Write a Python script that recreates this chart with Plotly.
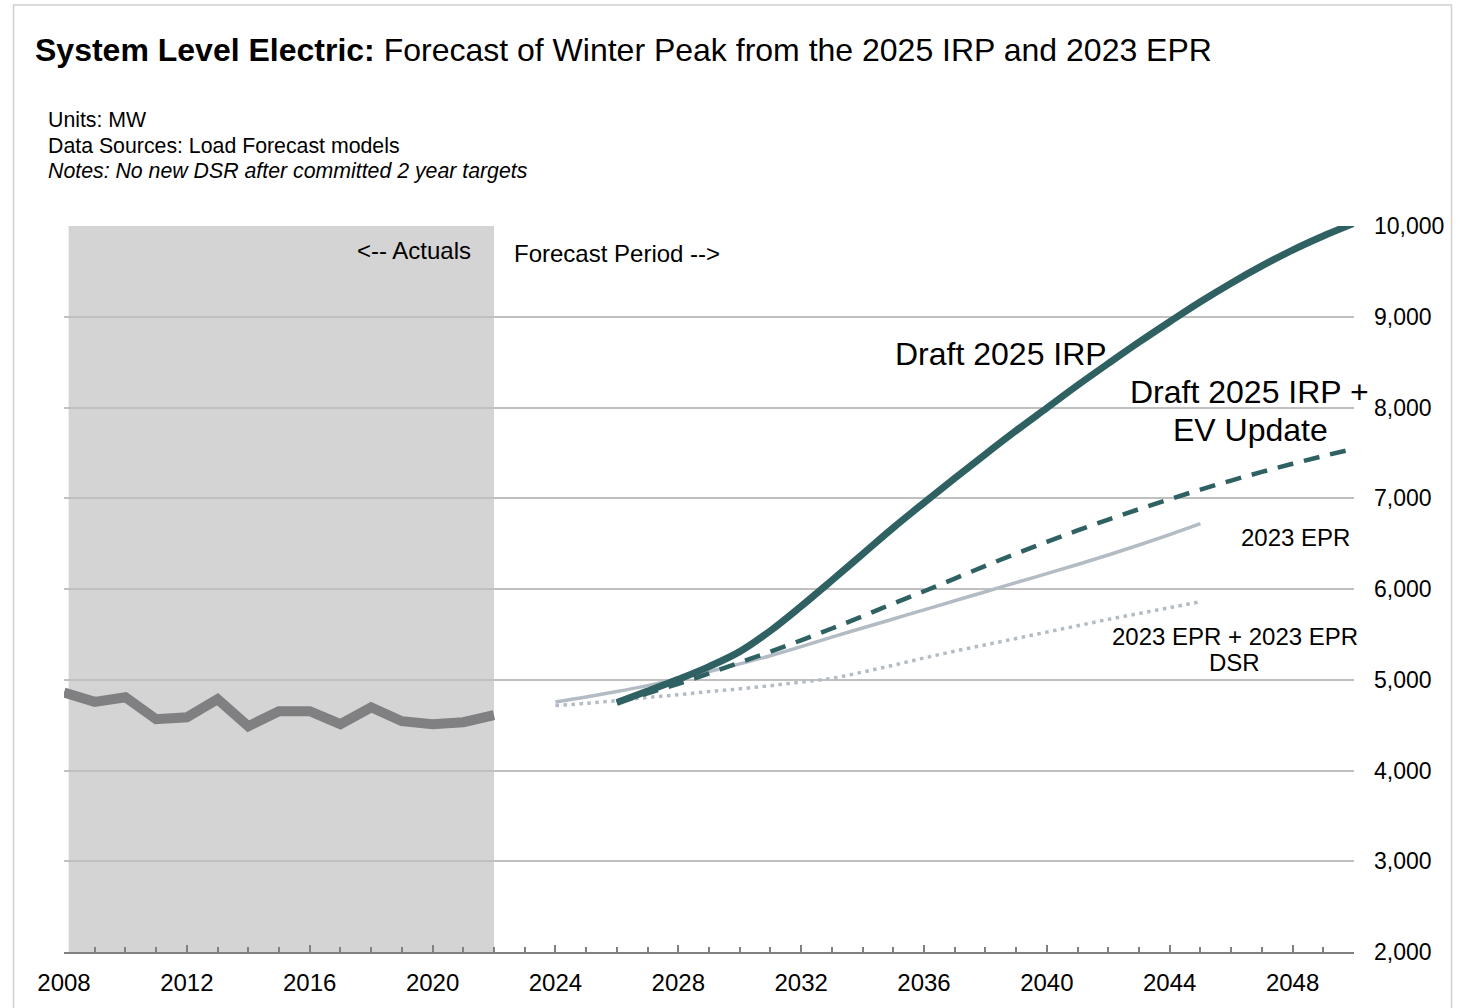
import plotly.graph_objects as go

# ---------------- data ----------------
actual_years = list(range(2008, 2023))
actual_mw = [4860, 4756, 4807, 4565, 4587, 4785, 4488, 4653, 4653, 4510, 4697, 4543, 4510, 4532, 4609]

irp_years = list(range(2026, 2051))
irp_mw = [4750, 4875, 5005, 5145, 5310, 5540, 5810, 6095, 6385, 6675, 6950, 7220, 7485, 7745,
          7995, 8245, 8485, 8720, 8945, 9165, 9370, 9560, 9735, 9890, 10030]

irp_ev_years = list(range(2026, 2051))
irp_ev_mw = [4745, 4850, 4955, 5070, 5190, 5310, 5435, 5565, 5700, 5840, 5975, 6115, 6255, 6390,
             6520, 6645, 6765, 6880, 6990, 7095, 7195, 7290, 7380, 7465, 7545]

epr_years = list(range(2024, 2046))
epr_mw = [4755, 4810, 4870, 4935, 5010, 5090, 5175, 5265, 5365, 5470, 5570, 5670, 5770, 5870,
          5970, 6070, 6170, 6270, 6375, 6485, 6600, 6720]

epr_dsr_years = list(range(2024, 2046))
epr_dsr_mw = [4715, 4740, 4770, 4805, 4835, 4870, 4900, 4935, 4975, 5015, 5085, 5160, 5240, 5315,
              5385, 5455, 5525, 5595, 5665, 5730, 5795, 5860]

x_tick_vals = list(range(2008, 2050, 4))
y_tick_vals = list(range(2000, 10001, 1000))

# ---------------- styling ----------------
FONT = "Liberation Sans, Arial, sans-serif"
TEAL = "#2f6163"
LIGHT = "#b3bcc4"
GRAYLINE = "#808082"
GRID = "#c0c0c0"

fig = go.Figure()

fig.add_trace(go.Scatter(x=actual_years, y=actual_mw, mode="lines",
                         line=dict(color=GRAYLINE, width=10), name="Actuals"))
fig.add_trace(go.Scatter(x=epr_years, y=epr_mw, mode="lines",
                         line=dict(color=LIGHT, width=3.5, shape="spline", smoothing=1),
                         name="2023 EPR"))
fig.add_trace(go.Scatter(x=epr_dsr_years, y=epr_dsr_mw, mode="lines",
                         line=dict(color=LIGHT, width=3.5, dash="3.5px,4.5px", shape="spline", smoothing=1),
                         name="2023 EPR + 2023 EPR DSR"))
fig.add_trace(go.Scatter(x=irp_ev_years, y=irp_ev_mw, mode="lines",
                         line=dict(color=TEAL, width=4.5, dash="16px,11px", shape="spline", smoothing=1),
                         name="Draft 2025 IRP + EV Update"))
fig.add_trace(go.Scatter(x=irp_years, y=irp_mw, mode="lines",
                         line=dict(color=TEAL, width=7, shape="spline", smoothing=1),
                         name="Draft 2025 IRP"))

# shaded actuals period
fig.add_shape(type="rect", xref="x", yref="y", x0=2008.15, x1=2022, y0=2000, y1=10000,
              fillcolor="#d4d4d4", line=dict(width=0), layer="below")

# outer border
fig.add_shape(type="rect", xref="paper", yref="paper", x0=-0.0391, x1=1.0756, y0=-0.09, y1=1.3044,
              line=dict(color="#d0d0d0", width=1.5), fillcolor="rgba(0,0,0,0)", layer="above")

ann = []
def text(x, y, s, size, xanchor="center", xref="x", yref="y", italic=False):
    ann.append(dict(x=x, y=y, xref=xref, yref=yref, text=(f"<i>{s}</i>" if italic else s),
                    showarrow=False, xanchor=xanchor, yanchor="middle",
                    font=dict(family=FONT, size=size, color="black")))

# subtitle block
text(-0.0136, 1.146, "Units: MW", 21.3, xanchor="left", xref="paper", yref="paper")
text(-0.0136, 1.1102, "Data Sources: Load Forecast models", 21.3, xanchor="left", xref="paper", yref="paper")
text(-0.0136, 1.0758, "Notes: No new DSR after committed 2 year targets", 21.3, xanchor="left",
     xref="paper", yref="paper", italic=True)

# in-plot labels
text(2021.32, 9725, "<-- Actuals", 24, xanchor="right")
text(2022.60, 9702, "Forecast Period -->", 24, xanchor="left")
text(2038.52, 8590, "Draft 2025 IRP", 32)
text(2046.60, 8171, "Draft 2025 IRP +", 32)
text(2046.62, 7752, "EV Update", 32)
text(2048.1, 6573, "2023 EPR", 24)
text(2046.12, 5482, "2023 EPR + 2023 EPR", 24)
text(2046.12, 5185, "DSR", 24)

fig.update_layout(
    width=1463, height=1008,
    margin=dict(l=64, r=109, t=226, b=56),
    paper_bgcolor="white", plot_bgcolor="white",
    showlegend=False,
    font=dict(family=FONT, color="black"),
    title=dict(text="<b>System Level Electric:</b> Forecast of Winter Peak from the 2025 IRP and 2023 EPR",
               x=35 / 1463, xref="container", xanchor="left",
               y=1 - 50 / 1008, yref="container", yanchor="middle",
               font=dict(family=FONT, size=32, color="black")),
    annotations=ann,
)

fig.update_xaxes(
    range=[2008, 2050], tickmode="array", tickvals=x_tick_vals,
    ticktext=[str(v) for v in x_tick_vals],
    showgrid=False, zeroline=False,
    showline=True, linecolor="#808080", linewidth=2,
    ticks="inside", ticklen=7, tickwidth=2, tickcolor="#808080",
    minor=dict(dtick=1, tick0=2008, ticks="inside", ticklen=5, tickwidth=1.5, tickcolor="#808080", showgrid=False),
    tickfont=dict(family=FONT, size=24, color="black"),
    ticklabelstandoff=8,
)
fig.update_yaxes(
    range=[2000, 10000], side="right", tickmode="array", tickvals=y_tick_vals,
    ticktext=[f"{v:,}" for v in y_tick_vals],
    showgrid=True, gridcolor=GRID, gridwidth=2, zeroline=False, showline=False,
    ticks="", tickfont=dict(family=FONT, size=23, color="black"),
    ticklabelstandoff=19,
)

fig.write_html("out.html")
